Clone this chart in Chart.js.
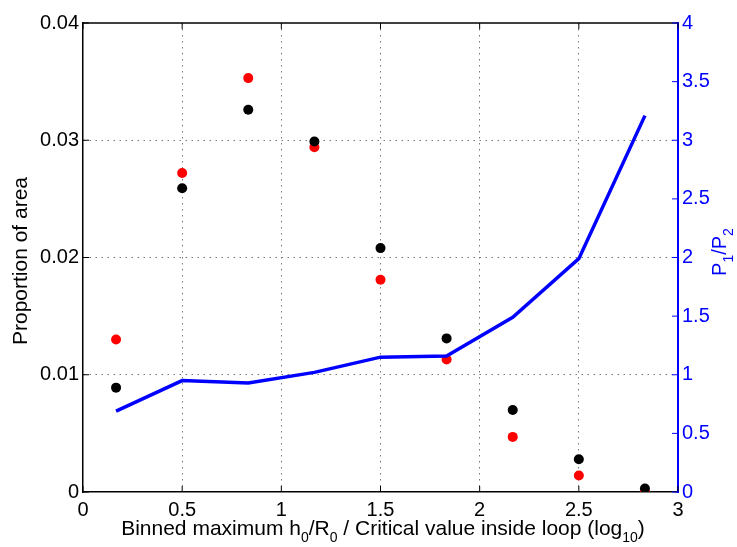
<!DOCTYPE html>
<html>
<head>
<meta charset="utf-8">
<script src="https://cdn.jsdelivr.net/npm/chart.js@4.4.1/dist/chart.umd.min.js"></script>
<style>
  html, body { margin: 0; padding: 0; background: #fff; }
  #wrap { width: 737px; height: 547px; }
</style>
</head>
<body>
<div id="wrap"><canvas id="chart" width="737" height="547"></canvas></div>
<script>
// bin centres, log10 of (h0/R0 / critical value)
const binCentres = [0.1667, 0.5, 0.8333, 1.1667, 1.5, 1.8333, 2.1667, 2.5, 2.8333];
// proportion of area (left axis)
const areaBlack = [0.0089, 0.0259, 0.0326, 0.0299, 0.0208, 0.0131, 0.0070, 0.0028, 0.0003];
const areaRed   = [0.0130, 0.0272, 0.0353, 0.0294, 0.0181, 0.0113, 0.0047, 0.0014, 0.0000];
// P1/P2 (right axis)
const ratioP1P2 = [0.69, 0.95, 0.93, 1.02, 1.15, 1.16, 1.49, 1.99, 3.21];

const xTicks = [0, 0.5, 1, 1.5, 2, 2.5, 3];
const yLeftTicks = [0, 0.01, 0.02, 0.03, 0.04];
const yRightTicks = [0, 0.5, 1, 1.5, 2, 2.5, 3, 3.5, 4];

const xTitle = [
  { t: 'Binned maximum h' }, { t: '0', sub: true }, { t: '/R' }, { t: '0', sub: true },
  { t: ' / Critical value inside loop (log' }, { t: '10', sub: true }, { t: ')' }
];
const yTitle = [{ t: 'Proportion of area' }];
const y2Title = [{ t: 'P' }, { t: '1', sub: true }, { t: '/P' }, { t: '2', sub: true }];

const FONT = '"Liberation Sans", Arial, Helvetica, sans-serif';
const BLUE = '#0000ff';

function toPoints(ys) {
  return binCentres.map((x, i) => ({ x: x, y: ys[i] }));
}

// text with subscripts, centred on (cx, baseline cy)
function drawRich(ctx, parts, cx, cy, angle, color, size) {
  ctx.save();
  ctx.translate(cx, cy);
  ctx.rotate(angle);
  ctx.fillStyle = color;
  ctx.textAlign = 'left';
  ctx.textBaseline = 'alphabetic';
  const subSize = Math.round(size * 0.68);
  const fontOf = p => (p.sub ? subSize : size) + 'px ' + FONT;
  const widths = parts.map(p => { ctx.font = fontOf(p); return ctx.measureText(p.t).width; });
  let x = -widths.reduce((a, b) => a + b, 0) / 2;
  parts.forEach((p, i) => {
    ctx.font = fontOf(p);
    ctx.fillText(p.t, x, p.sub ? size * 0.35 : 0);
    x += widths[i];
  });
  ctx.restore();
}

const decorations = {
  id: 'decorations',
  afterDraw(chart) {
    const ctx = chart.ctx;
    const a = chart.chartArea;
    const sx = chart.scales.x, sy = chart.scales.y, sy2 = chart.scales.y2;
    const tick = 6;
    ctx.save();
    // top box edge
    ctx.strokeStyle = '#000';
    ctx.lineWidth = 1.5;
    ctx.beginPath();
    ctx.moveTo(a.left, a.top);
    ctx.lineTo(a.right, a.top);
    ctx.stroke();
    // inward ticks
    ctx.lineWidth = 1;
    ctx.beginPath();
    xTicks.forEach(v => {
      const px = sx.getPixelForValue(v);
      ctx.moveTo(px, a.bottom); ctx.lineTo(px, a.bottom - tick);
      ctx.moveTo(px, a.top); ctx.lineTo(px, a.top + tick);
    });
    yLeftTicks.forEach(v => {
      const py = sy.getPixelForValue(v);
      ctx.moveTo(a.left, py); ctx.lineTo(a.left + tick, py);
    });
    ctx.stroke();
    ctx.strokeStyle = BLUE;
    ctx.beginPath();
    yRightTicks.forEach(v => {
      const py = sy2.getPixelForValue(v);
      ctx.moveTo(a.right, py); ctx.lineTo(a.right - tick, py);
    });
    ctx.stroke();
    ctx.restore();

    drawRich(ctx, xTitle, 383, 535, 0, '#000', 21);
    drawRich(ctx, yTitle, 27, 261, -Math.PI / 2, '#000', 21);
    drawRich(ctx, y2Title, 726, 252, -Math.PI / 2, BLUE, 20);
  }
};

Chart.defaults.font.family = FONT;
Chart.defaults.font.size = 20;
Chart.defaults.color = '#000';

const gridColor = c => (c.tick.value === 0 || c.tick.value === 3 || c.tick.value === 0.04) ? 'rgba(0,0,0,0)' : '#777';

new Chart(document.getElementById('chart'), {
  type: 'scatter',
  data: {
    datasets: [
      {
        label: 'P1/P2',
        type: 'line',
        data: toPoints(ratioP1P2),
        yAxisID: 'y2',
        borderColor: BLUE,
        borderWidth: 3.5,
        pointRadius: 0,
        tension: 0,
        fill: false,
        order: 0
      },
      {
        label: 'black',
        data: toPoints(areaBlack),
        yAxisID: 'y',
        backgroundColor: '#000',
        borderWidth: 0,
        pointRadius: 5,
        order: 1
      },
      {
        label: 'red',
        data: toPoints(areaRed),
        yAxisID: 'y',
        backgroundColor: '#ff0000',
        borderWidth: 0,
        pointRadius: 5,
        order: 2
      }
    ]
  },
  options: {
    responsive: false,
    animation: false,
    layout: { padding: { top: 23, left: 0, right: 0, bottom: 0 } },
    plugins: { legend: { display: false }, tooltip: { enabled: false } },
    scales: {
      x: {
        type: 'linear',
        min: 0, max: 3,
        afterBuildTicks: s => { s.ticks = xTicks.map(v => ({ value: v })); },
        afterFit: s => { s.height = 55; },
        ticks: { padding: 6, maxRotation: 0, callback: v => String(v) },
        grid: { color: gridColor, lineWidth: 1, drawTicks: false },
        border: { display: true, color: '#000', width: 1.5, dash: [1.5, 4.5] }
      },
      y: {
        type: 'linear',
        position: 'left',
        min: 0, max: 0.04,
        afterBuildTicks: s => { s.ticks = yLeftTicks.map(v => ({ value: v })); },
        afterFit: s => { s.width = 83; },
        ticks: { padding: 4, callback: v => String(v) },
        grid: { color: gridColor, lineWidth: 1, drawTicks: false },
        border: { display: true, color: '#000', width: 1.5, dash: [1.5, 4.5] }
      },
      y2: {
        type: 'linear',
        position: 'right',
        min: 0, max: 4,
        afterBuildTicks: s => { s.ticks = yRightTicks.map(v => ({ value: v })); },
        afterFit: s => { s.width = 59; },
        ticks: { padding: 4, color: BLUE, callback: v => String(v) },
        grid: { display: false, drawTicks: false },
        border: { display: true, color: BLUE, width: 2 }
      }
    }
  },
  plugins: [decorations]
});
</script>
</body>
</html>
